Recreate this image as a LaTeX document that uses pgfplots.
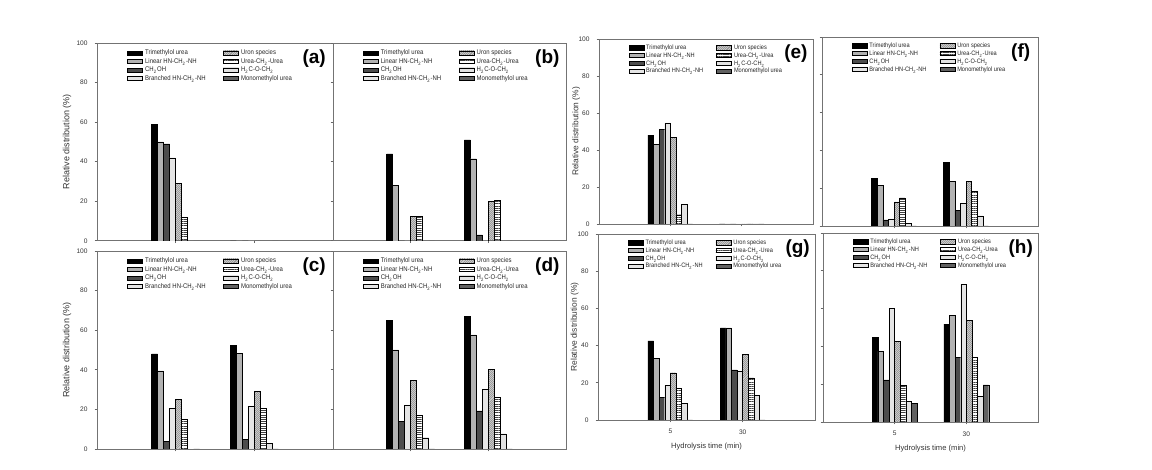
\documentclass[border=0pt]{standalone}
\usepackage{fontspec}
\setmainfont{Liberation Sans}
\newfontfamily\narrowfont[FakeStretch=0.88]{Liberation Sans}
\usepackage{pgfplots}
\usepackage{pgfplotstable}
\pgfplotsset{compat=1.18}
\usetikzlibrary{patterns,patterns.meta}

\pgfplotstableread{
x A B C D E F G H
1 59 50 49 42 29 12 0 0
2 0 0 0 0 0 0 0 0
}\tabA
\pgfplotstableread{
x A B C D E F G H
1 44 28 0 0 12.5 12.5 0 0
2 51 41.5 3 0 20 20.5 0 0
}\tabB
\pgfplotstableread{
x A B C D E F G H
1 48 39.5 3.7 20.7 25 14.8 0 0
2 52.3 48.2 4.9 21.8 29 20.5 3 0
}\tabC
\pgfplotstableread{
x A B C D E F G H
1 65 50 14 22.3 34.5 17 5.7 0
2 67 57.6 19.3 30 40.3 26 7.6 0
}\tabD
\pgfplotstableread{
x A B C D E F G H
1 48.1 43.2 51 54.6 46.8 5 10.8 0
2 0 0 0 0 0 0 0 0
}\tabE
\pgfplotstableread{
x A B C D E F G H
1 25.2 21.5 3.2 3.7 12.8 14.9 1.4 0
2 33.7 23.6 8.3 12.1 23.6 18.3 5.3 0
}\tabF
\pgfplotstableread{
x A B C D E F G H
1 42.5 33.3 12.3 18.6 25.4 17.1 9 0
2 49.5 49.5 27 26.1 35.3 22.7 13.5 0
}\tabG
\pgfplotstableread{
x A B C D E F G H
1 44.7 37.5 22.3 60 42.6 19.3 10.9 10
2 51.8 56.5 34.2 72.8 53.7 34.2 13.7 19.6
}\tabH

\pgfplotsset{
  sA/.style={fill=black,draw=black,line width=0.2pt},
  sB/.style={fill=black!30,draw=black,line width=0.2pt},
  sC/.style={fill=black!70,draw=black,line width=0.2pt},
  sD/.style={fill=black!10,draw=black,line width=0.2pt},
  sE/.style={pattern={Hatch[angle=45,distance=0.9pt,line width=0.3pt]},pattern color=black!60,draw=black,line width=0.2pt},
  sF/.style={pattern={Lines[angle=0,distance=1.1pt,line width=0.3pt]},pattern color=black!75,draw=black,line width=0.2pt},
  sG/.style={pattern={Dots[distance=1pt,radius=0.32pt]},pattern color=black!50,draw=black,line width=0.2pt},
  sH/.style={fill=black!62,draw=black,line width=0.2pt},
  base/.style={
    scale only axis, ybar=0pt,
    xmin=0, xmax=3, ymin=0, ymax=100,
    xtick={1,2}, ytick={0,20,40,60,80,100},
    tick align=outside, tick pos=left, major tick length=1.2pt,
    axis line style={black!55,line width=0.4pt},
    every tick/.style={black!60,line width=0.3pt},
    tick label style={font=\fontsize{3.3}{4}\selectfont, text=black!80},
    /pgf/number format/assume math mode=true,
    ylabel style={font=\fontsize{4.5}{5}\selectfont, text=black!80},
    xlabel style={font=\fontsize{3.8}{4.5}\selectfont, text=black!80},
    legend image code/.code={\draw[##1,line width=0.2pt] (0pt,-1.05pt) rectangle (7.5pt,1.05pt);},
    transpose legend, legend columns=4, legend cell align=left,
  },
  legL/.style={
    bar width=3pt,
    legend style={draw=none, fill=none, inner sep=0pt, at={(0.127,0.972)}, anchor=north west,
      font=\narrowfont\fontsize{3.4}{4}\selectfont,
      nodes={text height=2.6pt, text depth=0.7pt, inner sep=0.4pt, text=black!85},
      row sep=0.15pt,
      /tikz/every odd column/.append style={column sep=0.8pt},
      /tikz/every even column/.append style={column sep=8.4pt}},
  },
  legR/.style={
    bar width=2.8pt,
    legend style={draw=none, fill=none, inner sep=0pt, at={(0.136,0.976)}, anchor=north west,
      font=\narrowfont\fontsize{3.2}{4}\selectfont,
      nodes={text height=2.5pt, text depth=0.6pt, inner sep=0.35pt, text=black!85},
      row sep=0.1pt,
      /tikz/every odd column/.append style={column sep=0.8pt},
      /tikz/every even column/.append style={column sep=6.2pt}},
  },
}

\newcommand{\bars}[1]{%
  \addplot[sA] table[x=x,y=A]{#1};
  \addplot[sB] table[x=x,y=B]{#1};
  \addplot[sC] table[x=x,y=C]{#1};
  \addplot[sD] table[x=x,y=D]{#1};
  \addplot[sE] table[x=x,y=E]{#1};
  \addplot[sF] table[x=x,y=F]{#1};
  \addplot[sG] table[x=x,y=G]{#1};
  \addplot[sH] table[x=x,y=H]{#1};
  \legend{Trimethylol urea, Linear HN-CH\textsubscript{2}-NH, CH\textsubscript{2}OH, Branched HN-CH\textsubscript{2}-NH, Uron species, Urea-CH\textsubscript{2}-Urea, H\textsubscript{2}C-O-CH\textsubscript{2}, Monomethylol urea}
}
\newcommand{\plabel}[1]{\node[font=\bfseries\fontsize{9.5}{10}\selectfont] at (rel axis cs:0.92,0.92) {#1};}

\begin{document}
\begin{tikzpicture}
\path[use as bounding box] (0,0) rectangle (576pt,235pt);

% (a)
\begin{axis}[base, legL, at={(48.5pt,114.6pt)}, anchor=south west, width=118pt, height=98.9pt,
  xticklabels={}, ylabel={Relative distribution (\%)},
  ylabel style={at={(axis description cs:-0.127,0.5)}, anchor=center}]
\bars{\tabA}
\plabel{(a)}
\end{axis}

% (b)
\begin{axis}[base, legL, at={(166.5pt,114.6pt)}, anchor=south west, width=116.5pt, height=98.9pt,
  xticklabels={}, yticklabels={}]
\bars{\tabB}
\plabel{(b)}
\end{axis}

% (c)
\begin{axis}[base, legL, at={(48.5pt,10.5pt)}, anchor=south west, width=118pt, height=99pt,
  xticklabels={}, ylabel={Relative distribution (\%)},
  ylabel style={at={(axis description cs:-0.127,0.5)}, anchor=center}]
\bars{\tabC}
\plabel{(c)}
\end{axis}

% (d)
\begin{axis}[base, legL, at={(166.5pt,10.5pt)}, anchor=south west, width=116.5pt, height=99pt,
  xticklabels={}, yticklabels={}]
\bars{\tabD}
\plabel{(d)}
\end{axis}

% (e)
\begin{axis}[base, legR, at={(299.5pt,123pt)}, anchor=south west, width=107pt, height=92.5pt,
  xticklabels={}, ylabel={Relative distribution (\%)},
  ylabel style={at={(axis description cs:-0.107,0.5)}, anchor=center, font=\fontsize{4.2}{5}\selectfont}]
\bars{\tabE}
\plabel{(e)}
\end{axis}

% (f)
\begin{axis}[base, legR, at={(411pt,122pt)}, anchor=south west, width=108pt, height=94.5pt,
  xticklabels={}, yticklabels={}]
\bars{\tabF}
\plabel{(f)}
\end{axis}

% (g)
\begin{axis}[base, legR, at={(299pt,25pt)}, anchor=south west, width=108.5pt, height=93pt,
  xticklabels={5,30}, ylabel={Relative distribution (\%)},
  ylabel style={at={(axis description cs:-0.107,0.5)}, anchor=center, font=\fontsize{4.2}{5}\selectfont},
  xlabel={Hydrolysis time (min)},
  xlabel style={at={(axis description cs:0.5,-0.145)}, anchor=center}]
\bars{\tabG}
\plabel{(g)}
\end{axis}

% (h)
\begin{axis}[base, legR, at={(411.5pt,24pt)}, anchor=south west, width=107.5pt, height=94.5pt,
  xticklabels={5,30}, yticklabels={},
  xlabel={Hydrolysis time (min)},
  xlabel style={at={(axis description cs:0.5,-0.143)}, anchor=center}]
\bars{\tabH}
\plabel{(h)}
\end{axis}
\end{tikzpicture}
\end{document}
